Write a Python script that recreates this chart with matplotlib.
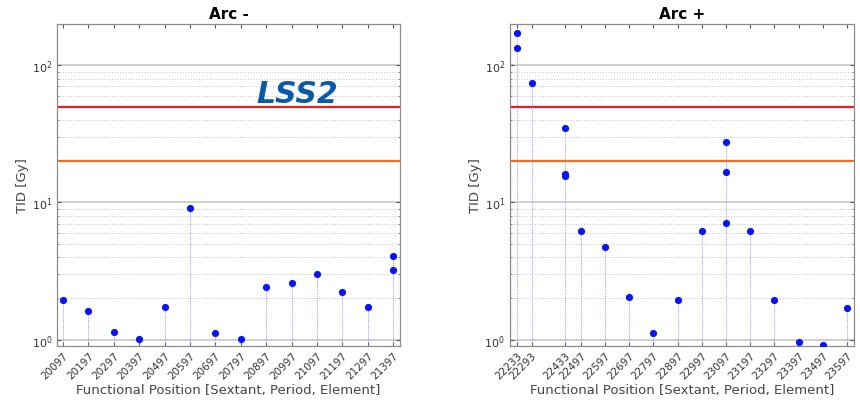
import numpy as np
import matplotlib.pyplot as plt
from matplotlib.ticker import LogLocator, NullFormatter

# TID per functional position, arc minus side
pos_minus = [20097, 20197, 20297, 20397, 20497, 20597, 20697, 20797,
             20897, 20997, 21097, 21197, 21297, 21397, 21397]
tid_minus = [1.95, 1.62, 1.14, 1.01, 1.72, 9.1, 1.11, 1.01,
             2.42, 2.6, 3.0, 2.21, 1.74, 4.08, 3.23]
ticks_minus = [20097, 20197, 20297, 20397, 20497, 20597, 20697, 20797,
               20897, 20997, 21097, 21197, 21297, 21397]

# TID per functional position, arc plus side
pos_plus = [22233, 22233, 22293, 22433, 22433, 22433, 22497, 22597, 22697,
            22797, 22897, 22997, 23097, 23097, 23097, 23197, 23297, 23397,
            23497, 23597]
tid_plus = [173, 133, 74, 34.8, 15.7, 16.2, 6.2, 4.7, 2.03,
            1.11, 1.95, 6.24, 27.5, 16.6, 7.1, 6.24, 1.95, 0.96,
            0.91, 1.70]
ticks_plus = [22233, 22293, 22433, 22497, 22597, 22697, 22797, 22897,
              22997, 23097, 23197, 23297, 23397, 23497, 23597]

limit_high = 50
limit_low = 20
y_lim = (0.9, 200)

fig = plt.figure(figsize=(8.6, 4.02), dpi=100)
ax1 = fig.add_axes([0.0663, 0.137, 0.399, 0.801])
ax2 = fig.add_axes([0.593, 0.137, 0.400, 0.801])


def draw_panel(ax, pos, tid, ticks, title, xlim):
    ax.set_yscale('log')
    ax.set_ylim(*y_lim)
    ax.set_xlim(*xlim)

    # grid: solid at decades, dotted in between
    ax.yaxis.set_minor_locator(LogLocator(base=10, subs=np.arange(2, 10)))
    ax.yaxis.set_minor_formatter(NullFormatter())
    ax.grid(True, which='major', axis='y', color='#c4c4c4', linewidth=1.1)
    ax.grid(True, which='minor', axis='y', color='#c4c4c4', linewidth=0.7,
            linestyle=(0, (1, 1.8)))
    ax.set_axisbelow(True)

    ax.axhline(limit_high, color='#ee1c1c', linewidth=1.6, zorder=2)
    ax.axhline(limit_low, color='#ff6a13', linewidth=1.6, zorder=2)

    # one stem per position, down to the bottom of the axes
    tops = {}
    for p, t in zip(pos, tid):
        tops[p] = max(t, tops.get(p, 0))
    ax.vlines(list(tops.keys()), y_lim[0], list(tops.values()),
              colors='#8080ff', linewidth=0.6, linestyles=(0, (1, 1.2)),
              zorder=3)
    ax.plot(pos, tid, 'o', color='#0a14f5', markersize=5.2, zorder=4,
            markeredgewidth=0)

    ax.set_xticks(ticks)
    ax.set_xticklabels([str(t) for t in ticks], rotation=45, ha='right',
                       rotation_mode='anchor', fontsize=7.5, color='#333333')
    ax.tick_params(axis='x', which='both', direction='in', top=True,
                   length=3, color='#555555', pad=3)
    ax.tick_params(axis='y', which='major', direction='in', right=True,
                   length=3, labelsize=8, labelcolor='#333333', color='#555555')
    ax.tick_params(axis='y', which='minor', direction='in', right=True,
                   length=1.5, color='#777777')
    for s in ax.spines.values():
        s.set_color('#8c8c8c')
        s.set_linewidth(0.9)

    ax.set_title(title, fontsize=11, fontweight='bold', pad=4)
    ax.set_ylabel('TID [Gy]', fontsize=9.5, color='#444444', labelpad=2)
    ax.set_xlabel('Functional Position [Sextant, Period, Element]',
                  fontsize=9.5, color='#444444', labelpad=2)


draw_panel(ax1, pos_minus, tid_minus, ticks_minus, 'Arc -', (20073, 21425))
draw_panel(ax2, pos_plus, tid_plus, ticks_plus, 'Arc +', (22204, 23626))

ax1.text(0.70, 0.785, 'LSS2', transform=ax1.transAxes, fontsize=21.5,
         fontweight='bold', fontstyle='italic', color='#0b5aa8',
         ha='center', va='center', zorder=5)

fig.savefig('out.png', dpi=100)
